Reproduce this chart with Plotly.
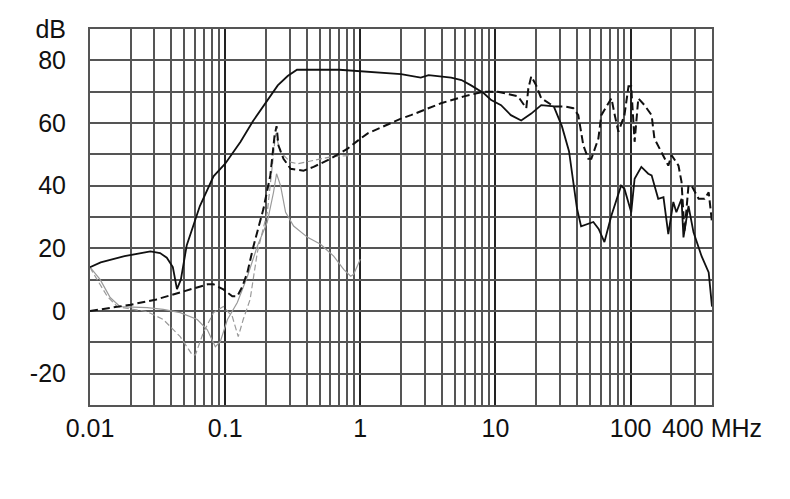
import plotly.graph_objects as go

# Frequencies (MHz) and levels (dB)
solid_f = [0.01, 0.012, 0.018, 0.028, 0.033, 0.037, 0.041, 0.043, 0.044, 0.047, 0.052,
           0.065, 0.082, 0.1, 0.13, 0.16, 0.205, 0.245, 0.29, 0.34, 0.7, 2.0, 2.8, 3.2,
           4.7, 5.6, 6.6, 8.2, 9.3, 11, 13, 15.5, 18.4, 21.8, 27, 31, 35, 40, 43, 53,
           58, 64, 72, 85, 90, 101, 107, 120, 135, 143, 160, 175, 190, 207, 218, 238,
           246, 268, 292, 335, 378, 400]
solid_db = [14, 15.5, 17.5, 19, 18.5, 17, 14, 10, 7, 10, 21,
            33.5, 43, 47, 54, 60.5, 67, 72, 75, 77, 77, 75.6, 74.5, 75.3,
            74.5, 73.7, 72, 69.5, 67.3, 65.7, 62.5, 60.8, 63, 65.7, 65.3, 59, 51, 33, 27, 28.4,
            26.2, 22, 30.4, 40, 39, 31.5, 42.2, 46, 43.8, 43.3, 35.8, 36.3, 24.5, 34.8, 31.5, 35.8,
            23.5, 33.5, 25.1, 17.5, 12.3, 1.4]

dashed_f = [0.01, 0.02, 0.031, 0.047, 0.074, 0.082, 0.097, 0.113, 0.123, 0.134, 0.146,
            0.162, 0.192, 0.216, 0.232, 0.24, 0.248, 0.27, 0.305, 0.38, 0.451, 0.603,
            0.805, 1.0, 1.135, 2.0, 2.37, 3.95, 5.85, 8.2, 10.4, 14.7, 16.9, 17.5, 18.4,
            20, 21.8, 27, 32.3, 37.7, 41, 44.7, 48.6, 51.2, 57.7, 60.7, 72.1, 75.9, 81.2,
            90, 96.4, 101, 107, 114, 126.5, 143, 150, 169, 190, 201, 226, 238, 250.5,
            268, 282.5, 318.5, 352.5, 378, 400]
dashed_db = [0, 2, 3.7, 6, 8.5, 8.5, 6.9, 4.7, 4.7, 7.8, 12.3,
             20.7, 32.6, 43.3, 56, 59, 52.8, 48.6, 45.4, 44.8, 46, 48.6,
             51.8, 55, 56.7, 61.4, 62.5, 66.3, 68.5, 70, 70, 68.5, 64.7, 71, 74.9,
             72, 67.9, 65.3, 65.3, 64.7, 62.5, 52.8, 48.6, 48.6, 55, 62.5, 67.9, 63, 57.2,
             62.5, 71.7, 71.7, 54, 67.9, 65.7, 62.5, 55, 50.7, 46.4, 49.7, 46.4, 41.2, 25.1,
             40, 40, 35.8, 35.8, 37.9, 28.3]

gray_solid_f = [0.01, 0.0119, 0.0141, 0.0167, 0.0265, 0.0348, 0.0465, 0.0622, 0.0738,
                0.0846, 0.092, 0.104, 0.123, 0.146, 0.173, 0.205, 0.228, 0.24, 0.257,
                0.28, 0.321, 0.407, 0.508, 0.635, 0.753, 0.849, 0.893, 1.0]
gray_solid_db = [14, 10, 4.3, 1.4, 1.1, 0.5, -0.5, -2.7, -6,
                 -11.4, -9.8, -2.7, 2.7, 11, 20.7, 28.4, 37.9, 43.8, 40,
                 31.5, 27.1, 23.5, 21.3, 17.5, 13.3, 11.1, 11.7, 16.5]

gray_dashed_f = [0.01, 0.0105, 0.0134, 0.0159, 0.0265, 0.0348, 0.0465, 0.0571, 0.0602,
                 0.0688, 0.082, 0.097, 0.113, 0.125, 0.136, 0.153, 0.173, 0.205, 0.228,
                 0.236, 0.257, 0.305, 0.343, 0.451, 0.603, 0.82]
gray_dashed_db = [14, 12.3, 4.7, 1.4, -0.2, -2.7, -8.2, -14, -14,
                  -7, -0.5, 1.4, -1.8, -8.2, -2.7, 3.7, 18.7, 31.5, 50,
                  56.6, 50.7, 47.5, 47, 48, 49.2, 49.6]

x_major = [0.01, 0.1, 1, 10, 100, 400]
x_major_text = ["0.01", "0.1", "1", "10", "100", "400 MHz"]
x_minor = [0.02, 0.03, 0.04, 0.05, 0.06, 0.07, 0.08, 0.09,
           0.2, 0.3, 0.4, 0.5, 0.6, 0.7, 0.8, 0.9,
           2, 3, 4, 5, 6, 7, 8, 9,
           20, 30, 40, 50, 60, 70, 80, 90,
           200, 300]
y_ticks = [-30, -20, -10, 0, 10, 20, 30, 40, 50, 60, 70, 80, 90]
y_text = ["", "-20", "", "0", "", "20", "", "40", "", "60", "", "80", "dB"]

fig = go.Figure()
fig.add_trace(go.Scatter(x=gray_solid_f, y=gray_solid_db, mode="lines",
                         line=dict(color="#9a9a9a", width=1.2)))
fig.add_trace(go.Scatter(x=gray_dashed_f, y=gray_dashed_db, mode="lines",
                         line=dict(color="#9a9a9a", width=1.2, dash="6px,3px")))
fig.add_trace(go.Scatter(x=dashed_f, y=dashed_db, mode="lines",
                         line=dict(color="#111111", width=2, dash="8px,4px")))
fig.add_trace(go.Scatter(x=solid_f, y=solid_db, mode="lines",
                         line=dict(color="#111111", width=1.8)))

font_family = "Liberation Sans, Arial, sans-serif"
fig.update_layout(
    width=790, height=499,
    margin=dict(l=90, r=78, t=29, b=94),
    paper_bgcolor="white", plot_bgcolor="white",
    showlegend=False,
    font=dict(family=font_family, color="#111111"),
    xaxis=dict(
        type="log", range=[-2, 2.60206],
        tickvals=x_major, ticktext=x_major_text,
        tickfont=dict(size=25),
        showgrid=True, gridcolor="#222222", gridwidth=2,
        minor=dict(tickvals=x_minor, showgrid=True, gridcolor="#555555", gridwidth=1.5, ticks=""),
        showline=True, mirror=True, linecolor="#555555", linewidth=2,
        ticks="", ticklabelstandoff=0, zeroline=False,
    ),
    yaxis=dict(
        range=[-30, 90],
        tickvals=y_ticks, ticktext=y_text,
        tickfont=dict(size=25),
        showgrid=True, gridcolor="#555555", gridwidth=1.5,
        showline=True, mirror=True, linecolor="#555555", linewidth=2,
        ticks="", ticklabelstandoff=17, zeroline=False,
    ),
)

fig.write_html("out.html", config={"displayModeBar": False},
               post_script="document.body.style.margin='0px';")
